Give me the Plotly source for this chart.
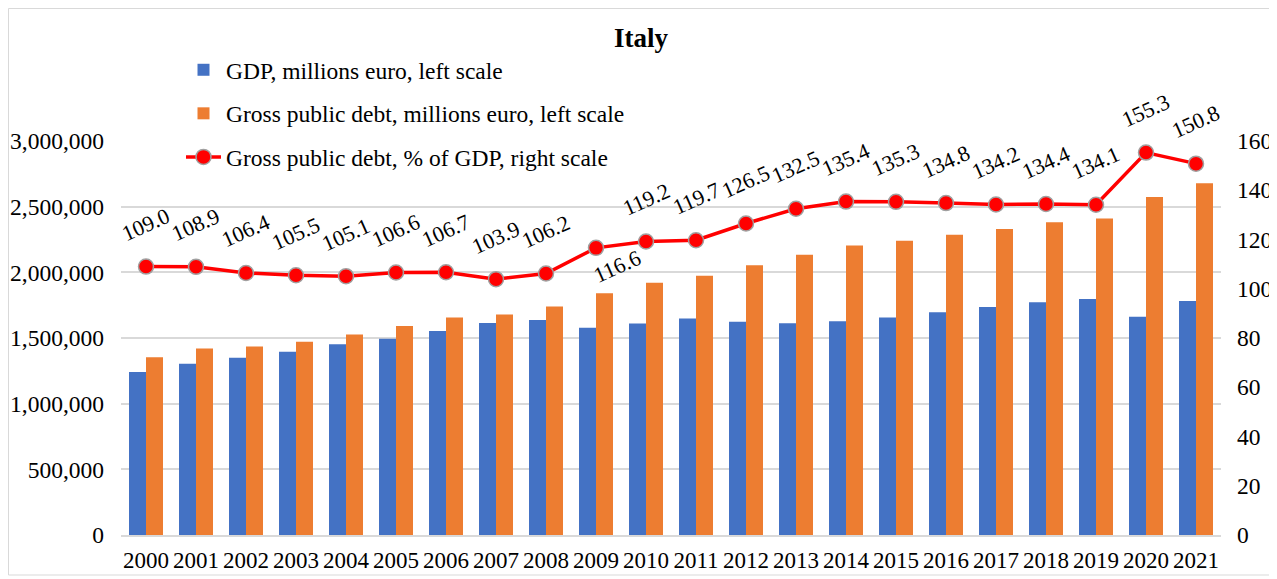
import plotly.graph_objects as go

years = ["2000", "2001", "2002", "2003", "2004", "2005", "2006", "2007", "2008", "2009", "2010",
         "2011", "2012", "2013", "2014", "2015", "2016", "2017", "2018", "2019", "2020", "2021"]
gdp = [1241500, 1304100, 1350300, 1394700, 1452600, 1493600, 1552700, 1614800, 1637700, 1577900, 1611300,
       1648800, 1624400, 1612800, 1627400, 1655400, 1695600, 1736600, 1771400, 1796600, 1661200, 1782000]
debt = [1352500, 1420900, 1436200, 1471700, 1526900, 1591700, 1656200, 1678200, 1740300, 1840300, 1920000,
        1973100, 2054800, 2134400, 2203700, 2240100, 2285300, 2329000, 2380600, 2409900, 2573400, 2678100]
pct = [109.0, 108.9, 106.4, 105.5, 105.1, 106.6, 106.7, 103.9, 106.2, 116.6, 119.2,
       119.7, 126.5, 132.5, 135.4, 135.3, 134.8, 134.2, 134.4, 134.1, 155.3, 150.8]
labels_below = ["2009"]

FONT = "Times New Roman, Liberation Serif, serif"

# the page body has an 8px margin, so the figure is sized to fit the remaining window
W, H = 1269, 571
L, R, T, B = 113, 56, 133, 44
PW, PH = W - L - R, H - T - B

fig = go.Figure()
fig.add_trace(go.Bar(x=years, y=gdp, name="GDP, millions euro, left scale",
                     marker=dict(color="#4472C4", line=dict(width=0)), legendgroup="a"))
fig.add_trace(go.Bar(x=years, y=debt, name="Gross public debt, millions euro, left scale",
                     marker=dict(color="#ED7D31", line=dict(width=0)), legendgroup="b"))
fig.add_trace(go.Scatter(x=years, y=pct, name="Gross public debt, % of GDP, right scale",
                         mode="lines+markers", yaxis="y2", legendgroup="c",
                         line=dict(color="#FF0000", width=3.5),
                         marker=dict(color="#FF0000", size=15, line=dict(color="#A0A0A0", width=1.5))))

annotations = []
for i, (yr, v) in enumerate(zip(years, pct)):
    below = yr in labels_below
    annotations.append(dict(
        x=i, y=v, xref="x", yref="y2", text=f"{v:.1f}", showarrow=False,
        textangle=-24, xanchor="center", yanchor="middle",
        xshift=21 if below else 0, yshift=-19 if below else 42,
        font=dict(family=FONT, size=22, color="#000000")))

fig.update_layout(
    width=W, height=H,
    margin=dict(l=L, r=R, t=T, b=B, autoexpand=False),
    paper_bgcolor="white", plot_bgcolor="white",
    font=dict(family=FONT, size=22, color="#000000"),
    title=dict(text="<b>Italy</b>", x=633 / W, xref="container", xanchor="center",
               y=1 - 30 / H, yref="container", yanchor="middle",
               font=dict(family=FONT, size=27, color="#000000")),
    barmode="group", bargap=0.32, bargroupgap=0,
    showlegend=True,
    legend=dict(x=173 / W, y=1 - 40 / H, xref="container", yref="container",
                xanchor="left", yanchor="top", bgcolor="rgba(0,0,0,0)",
                font=dict(family=FONT, size=23.5, color="#000000"), tracegroupgap=10,
                itemwidth=35),
    xaxis=dict(type="category", range=[-0.5, 21.5], showgrid=False, showline=True,
               linecolor="#D9D9D9", linewidth=1.5, automargin=False,
               ticks="", tickfont=dict(size=23), ticklabelstandoff=4),
    yaxis=dict(range=[0, 3000000], tickvals=[0, 500000, 1000000, 1500000, 2000000, 2500000, 3000000],
               tickformat=",d", showgrid=True, gridcolor="#D9D9D9", gridwidth=1.5,
               zeroline=False, showline=False, ticks="", tickfont=dict(size=23.5),
               ticklabelstandoff=16, automargin=False),
    yaxis2=dict(range=[0, 160], tickvals=[0, 20, 40, 60, 80, 100, 120, 140, 160], overlaying="y",
                side="right", showgrid=False, zeroline=False, showline=False, ticks="",
                tickfont=dict(size=23.5), ticklabelstandoff=15, automargin=False),
    annotations=annotations,
    shapes=[dict(type="rect", xref="paper", yref="paper",
                 x0=(0.5 - L) / PW, x1=(1265 - L) / PW,
                 y0=(T + PH - 567) / PH, y1=(T + PH - 0.5) / PH,
                 line=dict(color="#D9D9D9", width=1), fillcolor="rgba(0,0,0,0)", layer="below")],
)

fig.write_html("out.html")
